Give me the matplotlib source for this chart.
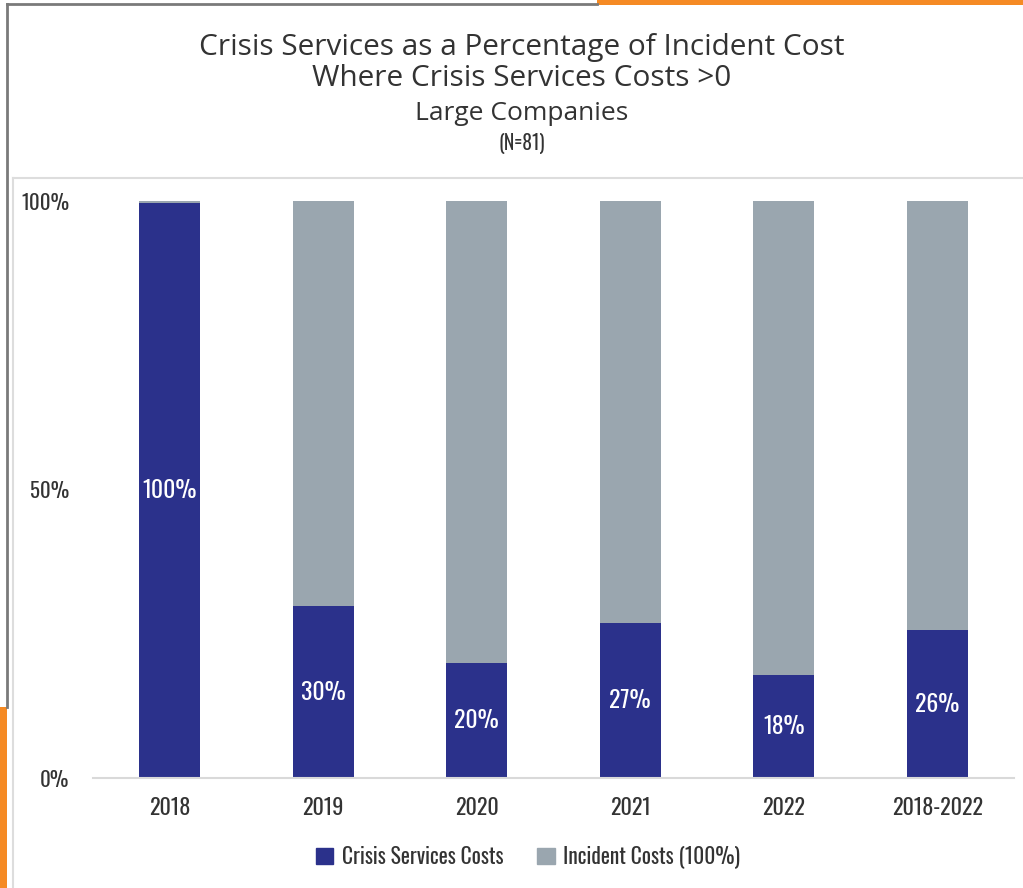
import matplotlib
matplotlib.use("Agg")
import matplotlib.pyplot as plt
from matplotlib.patches import Rectangle, Patch
from matplotlib.lines import Line2D
from matplotlib import font_manager

categories = ["2018", "2019", "2020", "2021", "2022", "2018-2022"]
crisis_share = [0.996, 0.298, 0.200, 0.268, 0.178, 0.256]
incident_total = [1.0, 1.0, 1.0, 1.0, 1.0, 1.0]
y_ticks = [0.0, 0.5, 1.0]
y_tick_labels = ["0%", "50%", "100%"]

BLUE = "#2B318B"
GREY = "#9AA6AF"
TEXT = "#333333"
ORANGE = "#F58A24"


def pick(*names):
    available = {f.name for f in font_manager.fontManager.ttflist}
    for n in names:
        if n in available:
            return n
    return "DejaVu Sans"


narrow = pick("Oswald", "Roboto Condensed", "Liberation Sans Narrow", "Roboto", "DejaVu Sans")
title_font = pick("Open Sans", "Lato", "DejaVu Sans")

W, H = 1023, 888
fig = plt.figure(figsize=(W / 100, H / 100), dpi=100)
fig.patch.set_facecolor("white")


def px(x, y):
    return x / W, 1 - y / H


# decorative frame around the panel
fig.add_artist(Line2D([7 / W, 597 / W], [1 - 4.5 / H] * 2, color="#7a7a7a", lw=2.0))
fig.add_artist(Rectangle((597 / W, 1 - 5 / H), 1 - 597 / W, 5 / H, color=ORANGE, lw=0))
fig.add_artist(Line2D([7 / W] * 2, [1 - 4 / H, 1 - 707 / H], color="#7a7a7a", lw=2.0))
fig.add_artist(Rectangle((0, 0), 6.5 / W, 1 - 707 / H, color=ORANGE, lw=0))
fig.add_artist(Line2D([13 / W, 1], [1 - 178 / H] * 2, color="#dddddd", lw=1.5))
fig.add_artist(Line2D([13 / W] * 2, [1 - 178 / H, 0], color="#dddddd", lw=1.5))

# titles
fig.text(*px(522, 48), "Crisis Services as a Percentage of Incident Cost",
         ha="center", va="center", fontsize=21.4, color=TEXT, family=title_font)
fig.text(*px(522, 79), "Where Crisis Services Costs >0",
         ha="center", va="center", fontsize=21.4, color=TEXT, family=title_font)
fig.text(*px(522, 113), "Large Companies",
         ha="center", va="center", fontsize=19, color=TEXT, family=title_font)
fig.text(*px(522, 144), "(N=81)",
         ha="center", va="center", fontsize=14, color=TEXT, family=narrow)

left, right = 93 / W, 1014 / W
bottom, top = 1 - 778 / H, 1 - 201 / H
ax = fig.add_axes([left, bottom, right - left, top - bottom])

x = list(range(len(categories)))
bw = 0.40
rest = [t - c for t, c in zip(incident_total, crisis_share)]
ax.bar(x, crisis_share, width=bw, color=BLUE, label="Crisis Services Costs", zorder=2)
ax.bar(x, rest, width=bw, bottom=crisis_share, color=GREY,
       label="Incident Costs (100%)", zorder=2)

for xi, v in zip(x, crisis_share):
    ax.text(xi, v / 2, f"{v:.0%}", ha="center", va="center", color="white",
            fontsize=17, family=narrow, zorder=3)

ax.set_xlim(-0.5, len(categories) - 0.5)
ax.set_ylim(0, 1)
ax.set_yticks(y_ticks)
ax.set_yticklabels(y_tick_labels)
ax.set_xticks(x)
ax.set_xticklabels(categories)
ax.tick_params(axis="both", length=0, colors=TEXT)
ax.tick_params(axis="x", pad=14, labelsize=16)
ax.tick_params(axis="y", pad=17, labelsize=15)
for lab in ax.get_xticklabels() + ax.get_yticklabels():
    lab.set_family(narrow)
for s in ["top", "right", "left"]:
    ax.spines[s].set_visible(False)
ax.spines["bottom"].set_color("#d9d9d9")
ax.spines["bottom"].set_linewidth(1.5)

handles = [Patch(color=BLUE, label="Crisis Services Costs"),
           Patch(color=GREY, label="Incident Costs (100%)")]
fig.legend(handles=handles, loc="center", bbox_to_anchor=px(528, 857),
           ncol=2, frameon=False, handlelength=0.8, handleheight=0.8,
           columnspacing=1.6, handletextpad=0.4, prop={"family": narrow, "size": 15.5},
           labelcolor=TEXT)

fig.savefig("out.png", dpi=100, facecolor="white")
